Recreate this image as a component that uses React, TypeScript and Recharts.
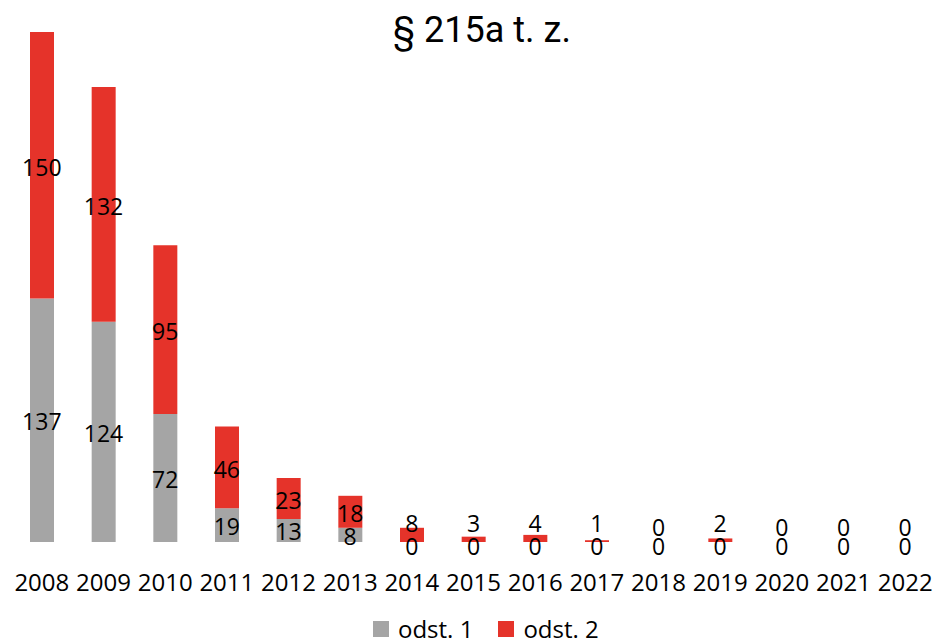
import { ComposedChart, Bar, Line, XAxis, YAxis, Legend } from "recharts";

const years = ["2008", "2009", "2010", "2011", "2012", "2013", "2014", "2015", "2016", "2017", "2018", "2019", "2020", "2021", "2022"];
const odst1 = [137, 124, 72, 19, 13, 8, 0, 0, 0, 0, 0, 0, 0, 0, 0];
const odst2 = [150, 132, 95, 46, 23, 18, 8, 3, 4, 1, 0, 2, 0, 0, 0];

const GRAY = "#a5a5a5";
const RED = "#e5332a";
const FONT = "'Open Sans', sans-serif";

// midpoints of each stacked segment, used to place the value labels
const data = years.map((year, i) => ({
  year,
  odst1: odst1[i],
  odst2: odst2[i],
  mid1: odst1[i] / 2,
  mid2: odst1[i] + odst2[i] / 2,
}));

const grayMidY: number[] = [];

function GrayDot(props: any) {
  const { cx, cy, payload, index } = props;
  if (cx == null || cy == null) return <g key={`g-${index}`} />;
  grayMidY[index] = cy;
  const y = payload.odst1 === 0 ? cy + 13 : cy + 10;
  return (
    <text key={`g-${index}`} x={cx} y={y} textAnchor="middle" fontSize={23} fontFamily={FONT} fill="#000">
      {payload.odst1}
    </text>
  );
}

function RedDot(props: any) {
  const { cx, cy, payload, index } = props;
  if (cx == null || cy == null) return <g key={`r-${index}`} />;
  const gm = grayMidY[index];
  let y = cy + 2.5;
  if (gm != null) y = Math.min(y, gm - (payload.odst2 === 0 ? 14 : 18));
  return (
    <text key={`r-${index}`} x={cx} y={y + 8} textAnchor="middle" fontSize={23} fontFamily={FONT} fill="#000">
      {payload.odst2}
    </text>
  );
}

function YearTick(props: any) {
  const { x, payload } = props;
  return (
    <text x={x} y={591} textAnchor="middle" fontSize={24} fontFamily={FONT} fill="#000">
      {payload.value}
    </text>
  );
}

function LegendBox() {
  const items = [
    { label: "odst. 1", color: GRAY },
    { label: "odst. 2", color: RED },
  ];
  return (
    <div style={{ height: 28, display: "flex", alignItems: "center", paddingLeft: 362, fontFamily: FONT, fontSize: 24, lineHeight: "24px" }}>
      {items.map((it, i) => (
        <div key={it.label} style={{ display: "flex", alignItems: "center", marginRight: i === 0 ? 25 : 0 }}>
          <span style={{ width: 16, height: 16, background: it.color, display: "inline-block", marginRight: 9 }} />
          <span style={{ color: "#000", whiteSpace: "nowrap" }}>{it.label}</span>
        </div>
      ))}
    </div>
  );
}

export default function App() {
  return (
    <div style={{ position: "absolute", left: 0, top: 0, width: 936, height: 644, background: "#fff" }}>
      <div
        style={{
          position: "absolute",
          left: 482,
          top: 12,
          transform: "translateX(-50%)",
          fontFamily: "Roboto, sans-serif",
          fontSize: 36,
          lineHeight: "36px",
          color: "#000",
          whiteSpace: "nowrap",
          zIndex: 1,
        }}
      >
        § 215a t. z.
      </div>
      <ComposedChart width={936} height={644} data={data} margin={{ top: 32, right: 0, bottom: 0, left: 11 }}>
        <XAxis dataKey="year" axisLine={false} tickLine={false} height={74} tick={<YearTick />} interval={0} />
        <YAxis hide domain={[0, 287]} />
        <Legend verticalAlign="bottom" content={<LegendBox />} wrapperStyle={{ left: 11, bottom: 1 }} />
        <Bar dataKey="odst1" stackId="a" fill={GRAY} barSize={24} isAnimationActive={false} />
        <Bar dataKey="odst2" stackId="a" fill={RED} barSize={24} isAnimationActive={false} />
        <Line dataKey="mid1" stroke="none" dot={<GrayDot />} activeDot={false} legendType="none" isAnimationActive={false} />
        <Line dataKey="mid2" stroke="none" dot={<RedDot />} activeDot={false} legendType="none" isAnimationActive={false} />
      </ComposedChart>
    </div>
  );
}
